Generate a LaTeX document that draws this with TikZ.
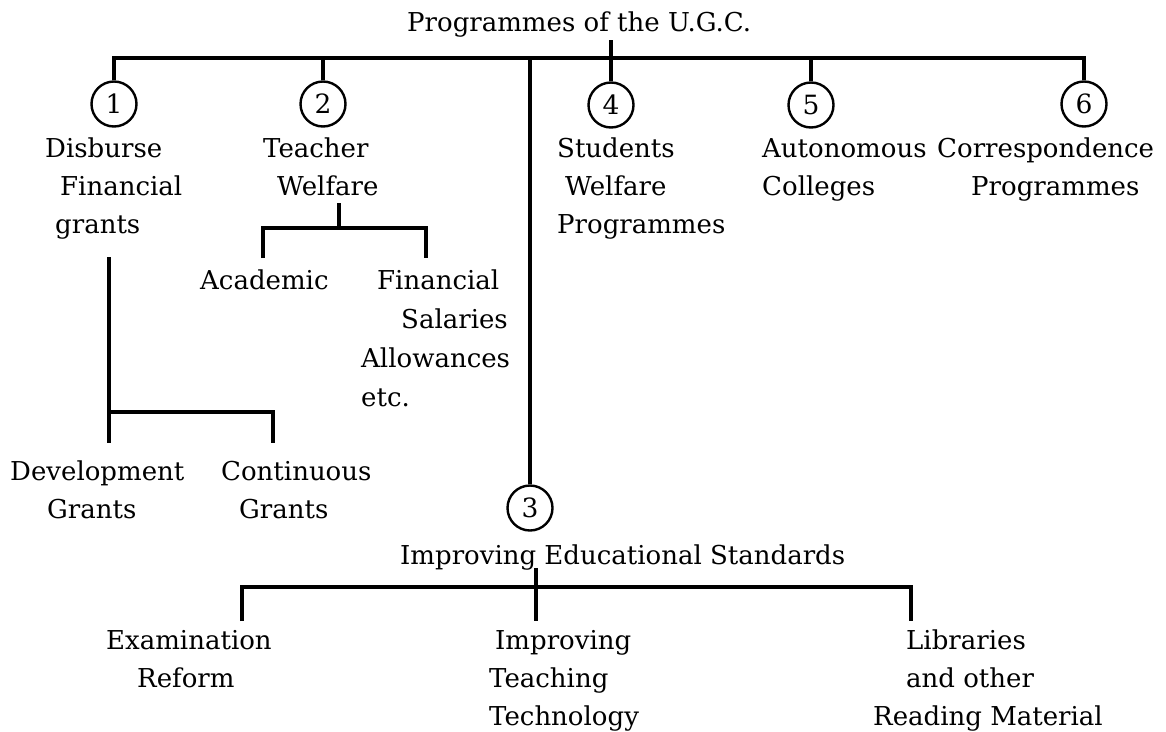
\documentclass[tikz,border=0pt]{standalone}
\usepackage{fontspec}
\setmainfont{DejaVu Serif}
\usetikzlibrary{positioning}

\tikzset{
  txt/.style={anchor=base west, inner sep=0pt, align=left, font=\fontsize{26}{38}\selectfont},
  num/.style={draw, circle, line width=2.4pt, minimum size=45pt, inner sep=0pt, font=\fontsize{26.5}{30}\selectfont},
  link/.style={line width=3.5pt}
}

\begin{document}
\begin{tikzpicture}[x=1pt,y=-1pt]
      \useasboundingbox (0,0) rectangle (1166,731);
      % top level
      \node[txt] (ugc) at (407,31) {Programmes of the U.G.C.};
      \node[num] (c1) at (114,104) {1};
      \node[num] (c2) at (323,104) {2};
      \node[num] (c4) at (611,105) {4};
      \node[num] (c5) at (811,105) {5};
      \node[num] (c6) at (1084,104) {6};
      \node[num] (c3) at (530,508) {3};
      \coordinate (topbar) at (0,58);
      \coordinate (ugcstub) at (611,40);
      \draw[link] (c1.north) -- (c1.north |- topbar) -- (c6.north |- topbar) -- (c6.north);
      \draw[link] (c2.north) -- (c2.north |- topbar);
      \draw[link] (c5.north) -- (c5.north |- topbar);
      \draw[link] (ugcstub) -- (c4.north);
      \draw[link] (c3.north) -- (c3.north |- topbar);

      % base anchor sits on the last line
      \node[txt] (disb) at (45,233) {Disburse\\\hspace*{15pt}Financial\\\hspace*{10pt}grants};
      \node[txt] (teach) at (263,195) {Teacher\\\hspace*{14pt}Welfare};
      \node[txt] (stud) at (557,233) {Students\\\hspace*{8pt}Welfare\\Programmes};
      \node[txt] (auto) at (762,195) {Autonomous\\Colleges};
      \node[txt] (corr) at (937,195) {Correspondence\\\hspace*{34pt}Programmes};

      % teacher welfare
      \node[txt] (acad) at (200,289) {Academic};
      \node[txt, font=\fontsize{26}{39}\selectfont] (fin) at (361,406) {\hspace*{16pt}Financial\\\hspace*{40pt}Salaries\\Allowances\\etc.};
      \coordinate (tw) at (339,203);
      \coordinate (twbar) at (339,228);
      \coordinate (acadtop) at (263,258);
      \coordinate (fintop) at (426,258);
      \draw[link] (tw) -- (twbar);
      \draw[link] (acadtop) -- (acadtop |- twbar) -- (fintop |- twbar) -- (fintop);

      % grants
      \node[txt] (dev) at (10,518) {Development\\\hspace*{37pt}Grants};
      \node[txt] (cont) at (221,518) {Continuous\\\hspace*{18pt}Grants};
      \coordinate (gr) at (109,257);
      \coordinate (grbar) at (109,412);
      \coordinate (devtop) at (109,443);
      \coordinate (conttop) at (273,443);
      \draw[link] (gr) -- (devtop);
      \draw[link] (grbar) -- (conttop |- grbar) -- (conttop);

      % educational standards
      \node[txt] (ies) at (400,564) {Improving Educational Standards};
      \node[txt] (exam) at (106,687) {Examination\\\hspace*{31pt}Reform};
      \node[txt] (itt) at (489,725) {\hspace*{6pt}Improving\\Teaching\\Technology};
      \node[txt] (libs) at (873,725) {\hspace*{33pt}Libraries\\\hspace*{33pt}and other\\Reading Material};
      \coordinate (iesstub) at (536,568);
      \coordinate (iesbar) at (0,587);
      \coordinate (examtop) at (242,621);
      \coordinate (itttop) at (536,621);
      \coordinate (libstop) at (911,621);
      \draw[link] (iesstub) -- (itttop);
      \draw[link] (examtop) -- (examtop |- iesbar) -- (libstop |- iesbar) -- (libstop);
\end{tikzpicture}
\end{document}
